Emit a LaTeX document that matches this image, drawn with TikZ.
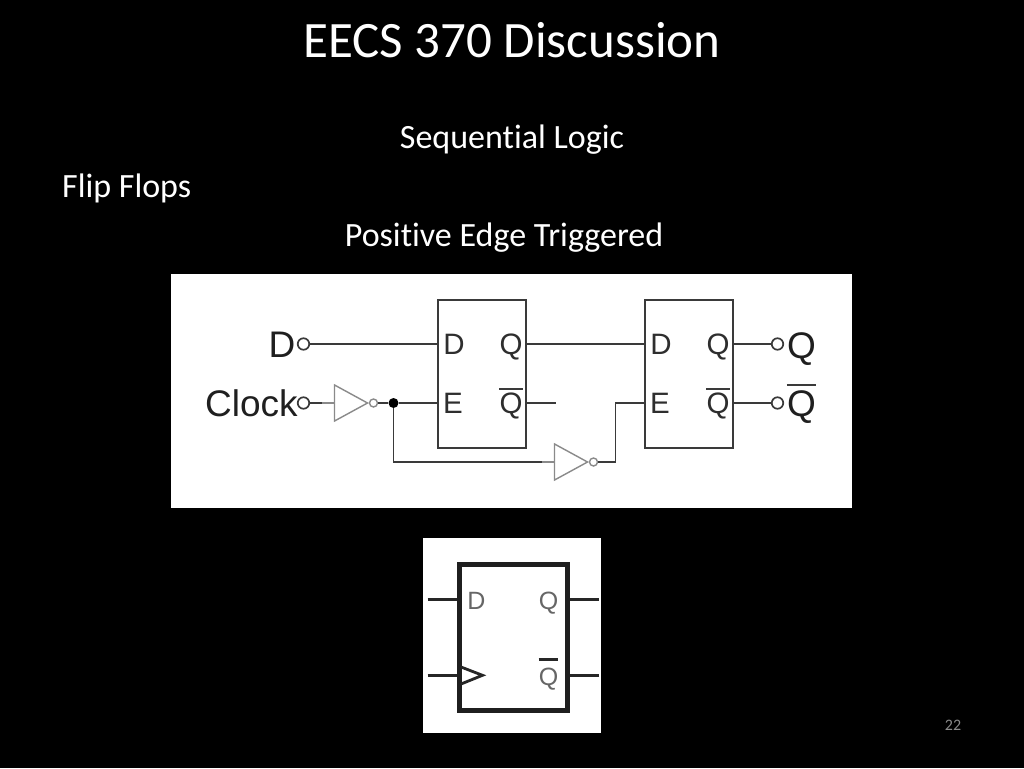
\documentclass[tikz,border=0pt]{standalone}
\usepackage{fontspec}
\setmainfont[Ligatures=NoCommon]{Carlito}
\newfontfamily\diagfont{Liberation Sans}
\usetikzlibrary{shapes.geometric}
\definecolor{wirec}{HTML}{3A3A3A}
\definecolor{invc}{HTML}{8A8A8A}
\tikzset{
  slidetext/.style={text=white,inner sep=0pt,anchor=base,font=\fontsize{34}{34}\selectfont},
  panel/.style={fill=white,draw=none,minimum width=#1,inner sep=0pt},
  wire/.style={draw=wirec,line width=1.9pt},
  lightwire/.style={draw=invc,line width=1.5pt},
  ffbox/.style={draw=wirec,line width=2pt,minimum width=88.5pt,minimum height=148pt,inner sep=0pt},
  port/.style={draw=wirec,line width=1.7pt,circle,fill=white,minimum size=11.5pt,inner sep=0pt},
  bubble/.style={draw=invc,line width=1.4pt,circle,fill=white,minimum size=8pt,inner sep=0pt},
  joint/.style={fill=black,circle,minimum size=10pt,inner sep=0pt},
  invgate/.style={draw=invc,line width=1.4pt,isosceles triangle,isosceles triangle apex angle=57,
     minimum width=36pt,minimum height=33pt,isosceles triangle stretches,inner sep=0pt,anchor=apex,fill=white},
  biglabel/.style={inner sep=0pt,anchor=base,text=black!88,font=\diagfont\fontsize{37}{37}\selectfont},
  pinlabel/.style={inner sep=0pt,anchor=base,text=black!82,font=\diagfont\fontsize{29.5}{29.5}\selectfont},
  graylabel/.style={inner sep=0pt,anchor=base,text=black!60,font=\diagfont\fontsize{25}{25}\selectfont},
  thickwire/.style={draw=black!85,line width=2.8pt},
  bar/.style={line width=2pt,draw=wirec}
}
\begin{document}
\begin{tikzpicture}[x=1pt,y=-1pt]
\fill[black] (0,0) rectangle (1024,768);
\useasboundingbox (0,0) rectangle (1024,768);
% slide text
\node[slidetext,font=\fontsize{51}{51}\selectfont] (title) at (512,57) {EECS 370 Discussion};
\node[slidetext] (seq) at (512,148) {Sequential Logic};
\node[slidetext,anchor=base west] (flip) at (62,197) {Flip Flops};
\node[slidetext] (pos) at (504,246.5) {Positive Edge Triggered};
\node[inner sep=0pt,anchor=base,text=black!45,font=\fontsize{16}{16}\selectfont] (page) at (953,730) {22};
% panels
\node[panel=681pt,minimum height=234pt] (p1) at (511.5,391) {};
\node[panel=178pt,minimum height=195pt] (p2) at (512,635.5) {};
% flip-flops
\node[ffbox] (ffa) at (482,373.5) {};
\node[ffbox] (ffb) at (689,373.5) {};
\coordinate (ffaD) at (ffa.west |- 0,344);
\coordinate (ffaE) at (ffa.west |- 0,403);
\coordinate (ffaQ) at (ffa.east |- 0,344);
\coordinate (ffaN) at (ffa.east |- 0,403);
\coordinate (ffbD) at (ffb.west |- 0,344);
\coordinate (ffbE) at (ffb.west |- 0,403);
\coordinate (ffbQ) at (ffb.east |- 0,344);
\coordinate (ffbN) at (ffb.east |- 0,403);
% ports and gates
\node[port] (dIn) at (303.5,344) {};
\node[port] (clkIn) at (303.5,403) {};
\node[invgate] (invA) at (369,403) {};
\node[bubble] (bubA) at (373.5,403) {};
\node[joint] (dot) at (393.5,403) {};
\node[invgate] (invB) at (589,462) {};
\node[bubble] (bubB) at (593.5,462) {};
\node[port] (qOut) at (777.5,344) {};
\node[port] (nOut) at (777.5,403) {};
\coordinate (stub) at (556,403);
\coordinate (clkMid) at (322,403);
\coordinate (lowMid) at (542,462);
\coordinate (turn) at (615.5,462);
% connectors
\draw[wire] (dIn) -- (ffaD);
\draw[wire] (clkIn) -- (clkMid);
\draw[lightwire] (clkMid) -- (invA.lower side);
\draw[wire] (bubA) -- (dot) -- (ffaE);
\draw[wire] (dot) |- (lowMid);
\draw[lightwire] (lowMid) -- (invB.lower side);
\draw[wire] (bubB) -- (turn) |- (ffbE);
\draw[wire] (ffaQ) -- (ffbD);
\draw[wire] (ffaN) -- (stub);
\draw[wire] (ffbQ) -- (qOut);
\draw[wire] (ffbN) -- (nOut);
% labels in the first circuit
\node[biglabel] (lD) at (282,357) {D};
\node[biglabel] (lClk) at (251.5,416) {Clock};
\node[pinlabel] (aD) at (454,354) {D};
\node[pinlabel] (aE) at (453,413) {E};
\node[pinlabel] (aQ) at (511,354) {Q};
\node[pinlabel] (aN) at (511,413) {Q};
\node[pinlabel] (bD) at (661,354) {D};
\node[pinlabel] (bE) at (660,413) {E};
\node[pinlabel] (bQ) at (718,354) {Q};
\node[pinlabel] (bN) at (718,413) {Q};
\node[biglabel] (oQ) at (801.5,358) {Q};
\node[biglabel] (oN) at (801.5,416.5) {Q};
\draw[bar] ([yshift=3pt]aN.north west) -- ([yshift=3pt]aN.north east);
\draw[bar] ([yshift=3pt]bN.north west) -- ([yshift=3pt]bN.north east);
\draw[bar] ([yshift=5pt]oN.north west) -- ([yshift=5pt]oN.north east);
% symbol
\node[draw=black!88,line width=5pt,minimum width=107.5pt,minimum height=146.5pt,inner sep=0pt] (sym) at (513.25,637.25) {};
\coordinate (sDl) at (427.5,599.3);
\coordinate (sCl) at (427.5,675.3);
\coordinate (sQr) at (599,599.3);
\coordinate (sNr) at (599,675.3);
\draw[thickwire] (sDl) -- (sDl -| sym.west);
\draw[thickwire] (sCl) -- (sCl -| sym.west);
\draw[thickwire] (sQr) -- (sQr -| sym.east);
\draw[thickwire] (sNr) -- (sNr -| sym.east);
\coordinate (tipTop) at (461,667);
\coordinate (tipEnd) at (482.5,675.3);
\coordinate (tipBot) at (461,684);
\draw[thickwire,line join=miter] (tipTop) -- (tipEnd) -- (tipBot);
\node[graylabel] (sD) at (476.5,609) {D};
\node[graylabel] (sQ) at (548.5,609) {Q};
\node[graylabel] (sN) at (548.5,685) {Q};
\draw[line width=3pt,draw=black!85] ([yshift=8pt]sN.north west) -- ([yshift=8pt]sN.north east);
\end{tikzpicture}
\end{document}
